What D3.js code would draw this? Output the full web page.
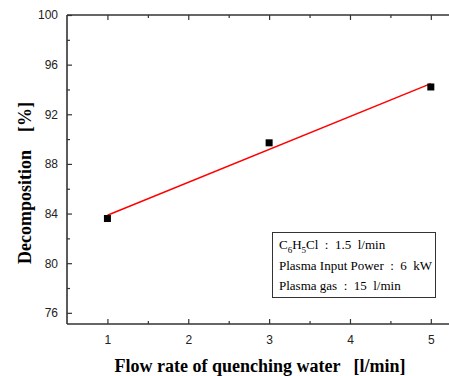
<!DOCTYPE html>
<html><head><meta charset="utf-8">
<script src="https://cdn.jsdelivr.net/npm/d3@7"></script>
<style>body{margin:0;background:#fff}svg{display:block}</style>
</head><body>
<svg id="c" width="449" height="376"></svg>
<script>
const flowRate = [1, 3, 5];
const decomposition = [83.6, 89.7, 94.2];
const xTicks = [1, 2, 3, 4, 5];
const xMinor = [1.5, 2.5, 3.5, 4.5];
const yTicks = [76, 80, 84, 88, 92, 96, 100];
const yMinor = [78, 82, 86, 90, 94, 98];
const legendLines = ["C6H5Cl", "Plasma Input Power  :  6  kW", "Plasma gas  :  15  l/min"];

(function () {
const svg = d3.select("#c");
const L = 67, T = 15, B = 324;
const x = d3.scaleLinear().domain([0.5, 5.5]).range([L, L + 5 * 80.85]);
const y = d3.scaleLinear().domain([75.1, 100]).range([B, T]);
const axisColor = "#333";

const gBottom = svg.append("g").attr("transform", `translate(0,${B})`)
  .call(d3.axisBottom(x).tickValues(xTicks).tickSize(-5).tickPadding(11).tickFormat(d3.format("d")));
const gBottomMinor = svg.append("g").attr("transform", `translate(0,${B})`)
  .call(d3.axisBottom(x).tickValues(xMinor).tickSize(-3).tickFormat(""));
const gTop = svg.append("g").attr("transform", `translate(0,${T})`)
  .call(d3.axisTop(x).tickValues(xTicks).tickSize(-5).tickFormat(""));
const gTopMinor = svg.append("g").attr("transform", `translate(0,${T})`)
  .call(d3.axisTop(x).tickValues(xMinor).tickSize(-3).tickFormat(""));
const gLeft = svg.append("g").attr("transform", `translate(${L},0)`)
  .call(d3.axisLeft(y).tickValues(yTicks).tickSize(-5).tickPadding(9).tickFormat(d3.format("d")));
const gLeftMinor = svg.append("g").attr("transform", `translate(${L},0)`)
  .call(d3.axisLeft(y).tickValues(yMinor).tickSize(-3).tickFormat(""));

[gBottom, gBottomMinor, gTop, gTopMinor, gLeft, gLeftMinor].forEach(g => {
  g.select(".domain").remove();
  g.selectAll(".tick line").attr("stroke", axisColor).attr("stroke-width", 1.2);
  g.selectAll(".tick text").attr("fill", "#222").attr("font-family", "Liberation Sans, Arial, sans-serif").attr("font-size", 12);
});
svg.append("line").attr("x1", L).attr("x2", 449).attr("y1", B).attr("y2", B).attr("stroke", axisColor).attr("stroke-width", 1.6);
svg.append("line").attr("x1", L).attr("x2", 449).attr("y1", T).attr("y2", T).attr("stroke", axisColor).attr("stroke-width", 1.6);
svg.append("line").attr("x1", L).attr("x2", L).attr("y1", T).attr("y2", B).attr("stroke", axisColor).attr("stroke-width", 1.6);

// linear fit computed from the data
const mx = d3.mean(flowRate), my = d3.mean(decomposition);
const slope = d3.sum(flowRate.map((v, i) => (v - mx) * (decomposition[i] - my))) / d3.sum(flowRate.map(v => (v - mx) ** 2));
const icpt = my - slope * mx;
const fitX = [d3.min(flowRate), d3.max(flowRate)];
svg.append("path")
  .attr("d", d3.line().x(d => x(d)).y(d => y(icpt + slope * d))(fitX))
  .attr("fill", "none").attr("stroke", "#ff0000").attr("stroke-width", 1.5);

svg.selectAll("rect.pt").data(flowRate).join("rect").attr("class", "pt")
  .attr("x", d => x(d) - 3.5).attr("y", (d, i) => y(decomposition[i]) - 3.5)
  .attr("width", 7).attr("height", 7).attr("fill", "#000");

const lg = svg.append("g").attr("font-family", "Liberation Serif, Times New Roman, serif").attr("font-size", 13).attr("fill", "#000");
lg.append("rect").attr("x", 272.5).attr("y", 232.5).attr("width", 163).attr("height", 65)
  .attr("fill", "#fff").attr("stroke", "#333").attr("stroke-width", 1);
const t1 = lg.append("text").attr("x", 279).attr("y", 249).style("white-space", "pre");
t1.append("tspan").text("C");
t1.append("tspan").attr("font-size", 9).attr("dy", 4).text("6");
t1.append("tspan").attr("dy", -4).text("H");
t1.append("tspan").attr("font-size", 9).attr("dy", 4).text("5");
t1.append("tspan").attr("dy", -4).text("Cl  :  1.5  l/min");
lg.append("text").attr("x", 279).attr("y", 270).style("white-space", "pre").text(legendLines[1]);
lg.append("text").attr("x", 279).attr("y", 290).style("white-space", "pre").text(legendLines[2]);

svg.append("text").attr("x", 260).attr("y", 372).attr("text-anchor", "middle")
  .attr("font-family", "Liberation Serif, Times New Roman, serif").attr("font-weight", "bold").attr("font-size", 18)
  .style("white-space", "pre").text("Flow rate of quenching water   [l/min]");
svg.append("text").attr("transform", "translate(31,183) rotate(-90)").attr("text-anchor", "middle")
  .attr("font-family", "Liberation Serif, Times New Roman, serif").attr("font-weight", "bold").attr("font-size", 18)
  .style("white-space", "pre").text("Decomposition    [%]");
})();
</script>
</body></html>
